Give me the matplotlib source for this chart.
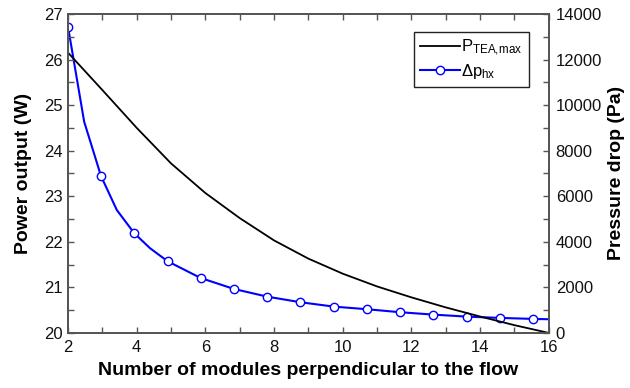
import matplotlib
matplotlib.use("Agg")
import matplotlib.pyplot as plt
from matplotlib.ticker import MultipleLocator

plt.rcParams['font.family'] = ['Liberation Sans', 'DejaVu Sans']
plt.rcParams['mathtext.fontset'] = 'custom'
plt.rcParams['mathtext.rm'] = 'Liberation Sans'
plt.rcParams['mathtext.it'] = 'Liberation Sans'

# ---- data ----
n_power = [2, 3, 4, 5, 6, 7, 8, 9, 10, 11, 12, 13, 14, 15, 16]
p_tea_max = [26.15, 25.33, 24.50, 23.72, 23.07, 22.52, 22.03, 21.63,
             21.30, 21.02, 20.78, 20.56, 20.36, 20.17, 20.00]

n_dp = [2.0, 2.47, 2.96, 3.42, 3.93, 4.39, 4.90, 5.86, 6.83, 7.80, 8.77,
        9.74, 10.71, 11.67, 12.64, 13.61, 14.58, 15.55, 16.0]
dp_hx = [13430, 9270, 6886, 5395, 4373, 3715, 3145, 2412, 1930, 1592, 1346,
         1154, 1039, 908, 803, 715, 658, 614, 600]
marker_idx = [0, 2, 4, 6, 7, 8, 9, 10, 11, 12, 13, 14, 15, 16, 17]

spine_col = '#555555'

fig = plt.figure(figsize=(6.3, 3.88), dpi=100)
ax = fig.add_axes([0.108, 0.142, 0.763, 0.822])
ax2 = ax.twinx()

l1, = ax.plot(n_power, p_tea_max, color='black', lw=1.3,
              label=r'$\mathregular{P_{TEA,\!max}}$')
l2, = ax2.plot(n_dp, dp_hx, color='#0000ff', lw=1.5, marker='o', ms=6,
               mfc='white', mec='#0000ff', mew=1.0, markevery=marker_idx,
               label=r'$\Delta\mathregular{p_{hx}}$')

ax.set_xlim(2, 16)
ax.set_ylim(20, 27)
ax2.set_ylim(0, 14000)

ax.xaxis.set_major_locator(MultipleLocator(2))
ax.xaxis.set_minor_locator(MultipleLocator(1))
ax.yaxis.set_major_locator(MultipleLocator(1))
ax.yaxis.set_minor_locator(MultipleLocator(0.5))
ax2.yaxis.set_major_locator(MultipleLocator(2000))
ax2.yaxis.set_minor_locator(MultipleLocator(1000))

for a in (ax, ax2):
    for s in a.spines.values():
        s.set_color(spine_col)
        s.set_linewidth(1.3)
    a.tick_params(which='both', direction='in', color=spine_col, width=1.0,
                  labelsize=12, labelcolor='#111111', length=4)
ax.tick_params(which='both', top=True, right=False)
ax.tick_params(axis='x', pad=5)
ax2.tick_params(which='both', left=False, right=True, pad=5)

ax.set_xlabel('Number of modules perpendicular to the flow', fontsize=14,
              fontweight='bold', labelpad=5)
ax.set_ylabel('Power output (W)', fontsize=14, fontweight='bold', labelpad=9)
ax2.set_ylabel('Pressure drop (Pa)', fontsize=14, fontweight='bold', labelpad=4)

leg = ax.legend(handles=[l1, l2], loc='upper right',
                bbox_to_anchor=(0.958, 0.944), borderaxespad=0,
                fontsize=12, fancybox=False, edgecolor='#222222',
                handlelength=2.4, handletextpad=0.1, labelspacing=0.25,
                borderpad=0.35, framealpha=1)
leg.get_frame().set_linewidth(1.0)
ax.set_zorder(ax2.get_zorder() + 1)
ax.patch.set_visible(False)

fig.savefig('out.png', dpi=100)
